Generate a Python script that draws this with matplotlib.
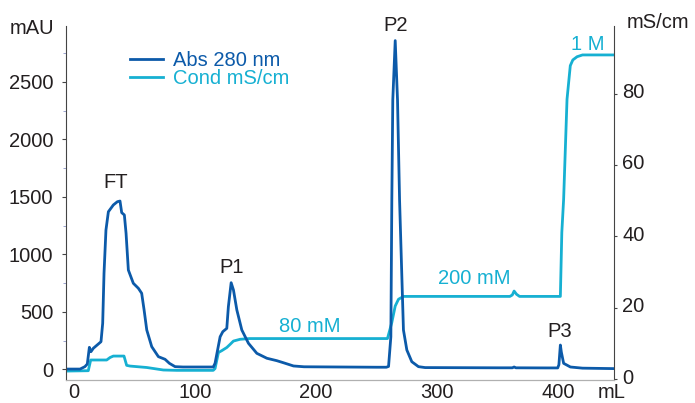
import matplotlib.pyplot as plt
from matplotlib.transforms import ScaledTranslation

plt.rcParams['font.family'] = ['Liberation Sans', 'DejaVu Sans']

# UV absorbance trace (mL, mAU)
abs_ml = [-7, 5, 9, 11, 12.7, 14, 16, 20.1, 22.3, 23.7, 24.8, 26.4, 28.4, 32.5, 35.8, 38,
          39.4, 41.6, 43, 44.9, 49, 53.2, 55.9, 57.9, 60.1, 64.2, 69.7, 75.2, 78.8, 83.5,
          90, 100, 110, 115,
          116.5, 120.7, 122.9, 126.2, 127.5, 129.8, 131.7, 134.5, 138.6, 144.1, 151, 159.3,
          167.5, 173, 181.3, 190, 220, 250, 258,
          259.8, 261.7, 262.5, 263.3, 265.3, 267.2, 268.9, 270.8, 272.1, 274.9, 279, 284.5,
          290, 320, 350, 362, 363.5, 365, 390,
          399.5, 400.5, 401.7, 402.5, 404.4, 410, 420, 446]
abs_mau = [2, 2, 23, 46, 191, 153, 183, 220, 240, 400, 835, 1211, 1370, 1429, 1457, 1463,
           1362, 1342, 1183, 863, 748, 704, 661, 516, 342, 197, 110, 87, 52, 23,
           20, 20, 20, 20,
           52, 283, 327, 356, 544, 753, 690, 516, 342, 226, 139, 96,
           75, 57, 29, 22, 20, 18, 18,
           25, 283, 1472, 2342, 2858, 2342, 1472, 800, 342, 168, 66, 23,
           15, 14, 13, 13, 20, 13, 12,
           12, 40, 211, 150, 52, 20, 10, 6]

# conductivity trace (mL, mS/cm)
cond_ml = [-7, 11.8, 13.8, 27, 29.8, 32.5, 41.3, 43.5, 46.3, 60.1, 73.8, 85, 115,
           116.5, 119.3, 122, 126.2, 129, 131.7, 137.2, 145, 200,
           258.9, 262.5, 265.3, 268, 272.1, 300, 360, 362, 363.5, 365.5, 368,
           401.7, 402.9, 404.4, 407.2, 409.9, 412, 415.5, 420, 446]
cond_ms = [2.3, 2.4, 5.4, 5.4, 6.1, 6.5, 6.5, 3.9, 3.7, 3.3, 2.6, 2.5, 2.5,
           3.0, 7.5, 8.0, 8.9, 9.8, 10.7, 11.2, 11.4, 11.4,
           11.4, 15.9, 20.5, 22.4, 23.2, 23.2, 23.2, 23.6, 24.7, 23.8, 23.2,
           23.2, 41.1, 50.4, 78.4, 87.8, 89.4, 90.3, 90.8, 90.8]

# peak names on the absorbance scale
peak_names = ['FT', 'P1', 'P2', 'P3']
peak_ml = [34.7, 130.6, 265.3, 401.4]
peak_mau = [1620, 881, 2988, 333]

# salt step names on the conductivity scale
step_names = ['80 mM', '200 mM', '1 M']
step_ml = [195, 330.4, 424.5]
step_ms = [14.9, 28.3, 93.8]

DARK = '#0c5aa9'
CYAN = '#16b0d2'
TXT = '#231f20'
FS = 14.5

fig = plt.figure(figsize=(6.95, 4.03), dpi=100)
ax = fig.add_axes([66 / 695, 1 - 380 / 403, (614 - 66) / 695, (380 - 26) / 403])
ax2 = ax.twinx()
ax.set_zorder(ax2.get_zorder() + 1)
ax.patch.set_visible(False)

l1, = ax.plot(abs_ml, abs_mau, color=DARK, lw=2, solid_joinstyle='round')
l2, = ax2.plot(cond_ml, cond_ms, color=CYAN, lw=2, solid_joinstyle='round')

ax.set_xlim(-6.6, 446)
ax.set_ylim(-93, 2985)
ax2.set_ylim(-0.2, 98.9)

ax.set_xticks([0, 100, 200, 300, 400])
ax.set_yticks([0, 500, 1000, 1500, 2000, 2500])
ax.set_yticks(range(250, 3000, 500), minor=True)
ax2.set_yticks([0, 20, 40, 60, 80])

for a in (ax, ax2):
    a.spines['top'].set_visible(False)
    a.spines['left'].set_color('#444444')
    a.spines['right'].set_color('#444444')
    a.spines['bottom'].set_color('#b0b0b0')
    a.spines['bottom'].set_linewidth(0.8)
ax.spines['right'].set_visible(False)
ax2.spines['left'].set_visible(False)

ax.tick_params(axis='x', length=0, pad=2, labelsize=FS, labelcolor=TXT)
ax.tick_params(axis='y', which='major', length=3, width=0.8, color='#444444',
               pad=6, labelsize=FS, labelcolor=TXT)
ax.tick_params(axis='y', which='minor', length=2, width=0.6, color='#8a94c8')
ax2.tick_params(axis='y', length=2, width=0.8, color='#444444', pad=4,
                labelsize=FS, labelcolor=TXT)

# right-hand labels sit a little above their ticks
lift = ScaledTranslation(0, 3 / 100, fig.dpi_scale_trans)
for lab in ax2.get_yticklabels():
    lab.set_transform(lab.get_transform() + lift)

for name, x, y in zip(peak_names, peak_ml, peak_mau):
    ax.text(x, y, name, ha='center', va='center', fontsize=FS, color=TXT)
for name, x, y in zip(step_names, step_ml, step_ms):
    ax2.text(x, y, name, ha='center', va='center', fontsize=FS, color=CYAN)

fig.text(31.5 / 695, 1 - 29 / 403, 'mAU', ha='center', va='center', fontsize=FS, color=TXT)
fig.text(658 / 695, 1 - 22.7 / 403, 'mS/cm', ha='center', va='center', fontsize=FS, color=TXT)
fig.text(612 / 695, 1 - 393 / 403, 'mL', ha='center', va='center', fontsize=FS, color=TXT)

leg = ax.legend([l1, l2], ['Abs 280 nm', 'Cond mS/cm'], loc='upper left',
                bbox_to_anchor=(130 / 695, 1 - 51 / 403), bbox_transform=fig.transFigure,
                frameon=False, fontsize=FS, handlelength=1.65, handletextpad=0.5,
                labelspacing=-0.05, borderpad=0, borderaxespad=0, labelcolor='linecolor')

fig.savefig('out.png', dpi=100)
